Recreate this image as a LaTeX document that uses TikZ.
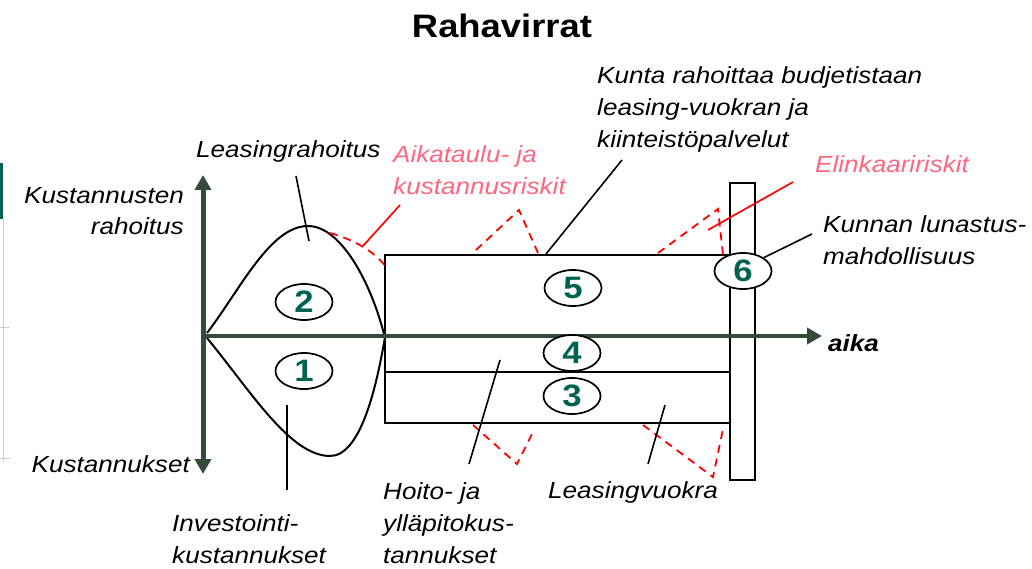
\documentclass[tikz,border=0pt]{standalone}
\usepackage{fontspec}
\setmainfont{Liberation Sans}[FakeStretch=1.12]
\usetikzlibrary{arrows.meta,shapes.geometric}
\definecolor{axisgreen}{RGB}{52,74,58}
\definecolor{numteal}{RGB}{0,99,82}
\definecolor{riskpink}{RGB}{255,102,128}
\tikzset{
    lbl/.style={inner sep=0pt, font=\fontsize{23.3}{32}\selectfont\itshape, align=left},
    risklbl/.style={lbl, text=riskpink},
    numell/.style={ellipse, draw, line width=1.7pt, fill=white,
        minimum width=57pt, minimum height=36pt, inner sep=0pt,
        font=\fontsize{31}{31}\selectfont\bfseries, text=numteal},
    pointer/.style={line width=1.6pt},
    riskline/.style={red, line width=1.7pt},
    riskzig/.style={red, line width=1.8pt, dash pattern=on 8pt off 6pt},
    axistip/.tip={Triangle[length=15pt,width=16pt]},
}
\begin{document}
\begin{tikzpicture}[x=1pt, y=-1pt]
    \useasboundingbox (0,0) rectangle (1032,569);
    % slide edge
    \fill[numteal] (0,163) rectangle (3,219);
    \draw[black!20, line width=1pt] (3.5,219) -- (3.5,462);
    \foreach \y in {327, 458} {
        \draw[black!20, line width=1pt] (0,\y) -- (10,\y);
    }

    \node (title) at (502,26) {\fontsize{32.5}{36}\selectfont\bfseries Rahavirrat};

    % leaf: leasing financing / investment costs
    \draw[line width=2pt] (207,333) .. controls (240,290) and (270,226) .. (308,226)
        .. controls (340,226) and (370,280) .. (384,334);
    \draw[line width=2pt] (207,338) .. controls (250,390) and (290,456) .. (330,456)
        .. controls (360,456) and (376,390) .. (385,337);

    % leasing period and buy-out bar
    \draw[line width=2.5pt] (385,255) rectangle (730,423);
    \draw[line width=2.5pt] (385,372) -- (730,372);
    \draw[line width=2.5pt, fill=white] (730,183) rectangle (755,480);

    % risks
    \draw[riskzig] (330,233) .. controls (355,240) and (375,252) .. (386,267);
    \foreach \ax/\ay/\bx/\by/\cx/\cy in {476/250/519/210/538/253, 658/253/718/209/723/255,
                                        473/425/517/464/534/430, 643/425/713/477/723/429} {
        \draw[riskzig] (\ax,\ay) -- (\bx,\by) -- (\cx,\cy);
    }

    % axes
    \draw[axisgreen, line width=5pt, axistip-axistip] (203,175) -- (203,474);
    \draw[axisgreen, line width=4.5pt, -axistip] (203,336) -- (822,336);

    % numbered parts
    \node[numell] (n1) at (304,371) {1};
    \node[numell] (n2) at (304,302) {2};
    \node[numell] (n3) at (572,396) {3};
    \node[numell] (n4) at (572,353) {4};
    \node[numell] (n5) at (573,288) {5};
    \node[numell] (n6) at (743,271) {6};

    % labels (multi-line nodes sit on their last baseline)
    \node[lbl, anchor=base west] (aika) at (828,351) {\bfseries aika};
    \node[lbl, anchor=base west] (kunta) at (597,148)
        {\baselineskip=30pt Kunta rahoittaa budjetistaan\\leasing-vuokran ja\\kiinteistöpalvelut};
    \node[lbl, anchor=base west] (leasrah) at (196,158) {Leasingrahoitus};
    \node[risklbl, anchor=base west] (aikat) at (393,195) {Aikataulu- ja\\kustannusriskit};
    \node[lbl, anchor=base east, align=right] (kustrah) at (184,235) {Kustannusten\\rahoitus};
    \node[lbl, anchor=base east] (kustann) at (190,472) {Kustannukset};
    \node[risklbl, anchor=base west] (elink) at (815,173) {Elinkaaririskit};
    \node[lbl, anchor=base west] (kunnan) at (823,264) {Kunnan lunastus-\\mahdollisuus};
    \node[lbl, anchor=base west] (invest) at (172,563) {\baselineskip=31pt Investointi-\\kustannukset};
    \node[lbl, anchor=base west] (hoito) at (383,563)
        {\baselineskip=30pt Hoito- ja\\ylläpitokus-\\tannukset};
    \node[lbl, anchor=base west] (leasv) at (548,498) {Leasingvuokra};

    % pointer ends
    \coordinate (p-leasrah) at (296,176);
    \coordinate (q-leasrah) at (309,241);
    \coordinate (p-invest) at (287,490);
    \coordinate (q-invest) at (287,405);
    \coordinate (p-hoito) at (469,464);
    \coordinate (q-hoito) at (500,360);
    \coordinate (p-leasv) at (648,464);
    \coordinate (q-leasv) at (665,405);
    \coordinate (p-kunta) at (622,160);
    \coordinate (q-kunta) at (546,254);
    \coordinate (p-kunnan) at (812,234);
    \coordinate (p-aikat) at (400,205);
    \coordinate (q-aikat) at (363,246);
    \coordinate (p-elink) at (793,182);
    \coordinate (q-elink) at (708,230);

    \draw[pointer] (p-leasrah) -- (q-leasrah);
    \draw[pointer] (p-invest) -- (q-invest);
    \draw[pointer] (p-hoito) -- (q-hoito);
    \draw[pointer] (p-leasv) -- (q-leasv);
    \draw[pointer] (p-kunta) -- (q-kunta);
    \draw[pointer] (p-kunnan) -- (n6.north east);
    \draw[riskline] (p-aikat) -- (q-aikat);
    \draw[riskline] (p-elink) -- (q-elink);
\end{tikzpicture}
\end{document}
